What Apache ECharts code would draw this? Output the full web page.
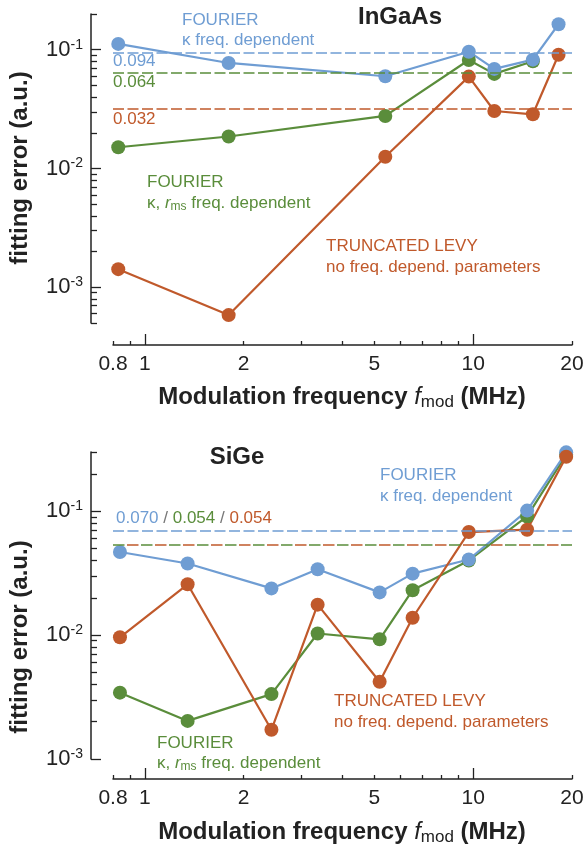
<!DOCTYPE html>
<html>
<head>
<meta charset="utf-8">
<script src="https://cdn.jsdelivr.net/npm/echarts@6/dist/echarts.min.js"></script>
<style>
  html, body { margin: 0; padding: 0; background: #fff; }
  #main { width: 586px; height: 847px; }
</style>
</head>
<body>
<div id="main"></div>
<script>
// InGaAs (top panel)
const freqTop = [0.83, 1.8, 5.4, 9.7, 11.6, 15.2, 18.2];
const blueTop = [0.112, 0.0774, 0.0598, 0.0963, 0.069, 0.0825, 0.164];
const greenTop = [0.0151, 0.0186, 0.0277, 0.082, 0.0626, 0.08];
const redTop = [0.00142, 0.000583, 0.01256, 0.0594, 0.0305, 0.0286, 0.0908];
const meanTop = { blue: 0.094, green: 0.064, red: 0.032 };

// SiGe (bottom panel)
const freqBot = [0.84, 1.35, 2.43, 3.36, 5.19, 6.54, 9.7, 14.6, 19.2];
const blueBot = [0.0468, 0.0378, 0.0238, 0.034, 0.0221, 0.0313, 0.0407, 0.101, 0.298];
const greenBot = [0.00343, 0.00203, 0.00334, 0.0103, 0.00924, 0.023, 0.040, 0.0906, 0.285];
const redBot = [0.0096, 0.0257, 0.00172, 0.0176, 0.0042, 0.0138, 0.0678, 0.0708, 0.275];
const meanBot = { blue: 0.070, green: 0.054, red: 0.054 };

// tick values
const xLabelTicks = [0.8, 1, 2, 5, 10, 20];
const xMinorTicks = [0.8, 0.9, 2, 3, 4, 5, 6, 7, 8, 9, 20];
const xMajorTicks = [1, 10];
const yTopDecades = [1e-3, 1e-2, 1e-1];
const yTopMinor = [5e-4, 6e-4, 7e-4, 8e-4, 9e-4,
  2e-3, 3e-3, 4e-3, 5e-3, 6e-3, 7e-3, 8e-3, 9e-3,
  2e-2, 3e-2, 4e-2, 5e-2, 6e-2, 7e-2, 8e-2, 9e-2, 0.2];
const yBotDecades = [1e-3, 1e-2, 1e-1];
const yBotMinor = [2e-3, 3e-3, 4e-3, 5e-3, 6e-3, 7e-3, 8e-3, 9e-3,
  2e-2, 3e-2, 4e-2, 5e-2, 6e-2, 7e-2, 8e-2, 9e-2, 0.2, 0.3];

const FONT = '"Liberation Sans", Arial, Helvetica, sans-serif';
const BLUE = '#6f9dd3';
const GREEN = '#5a8d3b';
const RED = '#c0592b';
const INK = '#222';

const axisLine = { onZero: false, lineStyle: { color: INK, width: 1.5 } };
const tickLine = { color: INK, width: 1.3 };

function xAxes(grid, offset) {
  return [
    {
      type: 'log', gridIndex: grid, min: 0.8, max: 20, position: 'bottom', offset,
      axisLine,
      axisTick: { inside: true, length: 4, customValues: xMinorTicks, lineStyle: tickLine },
      axisLabel: {
        customValues: xLabelTicks, margin: 9, color: INK, fontSize: 21, fontFamily: FONT,
        formatter: v => String(Math.round(v * 10) / 10)
      },
      splitLine: { show: false }
    },
    {
      type: 'log', gridIndex: grid, min: 0.8, max: 20, position: 'bottom', offset,
      axisLine: { show: false },
      axisTick: { inside: true, length: 11, customValues: xMajorTicks, lineStyle: tickLine },
      axisLabel: { show: false },
      splitLine: { show: false }
    }
  ];
}

function yAxes(grid, min, max, decades, minor) {
  return [
    {
      type: 'log', gridIndex: grid, min, max, position: 'left', offset: 22,
      axisLine,
      axisTick: { inside: true, length: 10, customValues: decades, lineStyle: tickLine },
      axisLabel: {
        customValues: decades, margin: 8, color: INK, fontFamily: FONT,
        formatter: v => '{b|10}{s|' + Math.round(Math.log10(v)) + '}',
        rich: {
          b: { fontSize: 22, lineHeight: 24, fontFamily: FONT, color: INK },
          s: { fontSize: 14, lineHeight: 14, verticalAlign: 'top', fontFamily: FONT, color: INK }
        }
      },
      splitLine: { show: false }
    },
    {
      type: 'log', gridIndex: grid, min, max, position: 'left', offset: 22,
      axisLine: { show: false },
      axisTick: { inside: true, length: 6, customValues: minor, lineStyle: tickLine },
      axisLabel: { show: false },
      splitLine: { show: false }
    }
  ];
}

function series(grid, color, xs, ys, mean, dash) {
  return {
    type: 'line',
    xAxisIndex: grid * 2,
    yAxisIndex: grid * 2,
    data: ys.map((v, i) => [xs[i], v]),
    symbol: 'circle',
    symbolSize: 14,
    color,
    itemStyle: { color },
    lineStyle: { color, width: 2.2 },
    markLine: {
      silent: true,
      precision: 4,
      symbol: ['none', 'none'],
      label: { show: false },
      lineStyle: Object.assign({ color, width: 1.5, type: [11, 3.5] }, dash || {}),
      data: [{ yAxis: mean }]
    }
  };
}

function txt(x, y, text, fill, extra) {
  return {
    type: 'text', x, y, silent: true,
    style: Object.assign({
      text, fill, fontSize: 17, fontFamily: FONT, verticalAlign: 'middle'
    }, extra || {})
  };
}

function kappaRms(x, y) {
  return txt(x, y, '\u03ba, {i|r}{s|ms} freq. dependent', GREEN, {
    lineHeight: 20,
    rich: {
      i: { fontStyle: 'italic', fontSize: 17, lineHeight: 20, fontFamily: FONT, fill: GREEN },
      s: { fontSize: 12, lineHeight: 14, verticalAlign: 'bottom', fontFamily: FONT, fill: GREEN }
    }
  });
}

function xName(y) {
  return txt(342, y, '{b|Modulation frequency }{i|f}{s|mod}{b| (MHz)}', INK, {
    align: 'center',
    rich: {
      b: { fontSize: 24, fontWeight: 'bold', lineHeight: 28, fontFamily: FONT, fill: INK },
      i: { fontSize: 24, fontStyle: 'italic', lineHeight: 28, fontFamily: FONT, fill: INK },
      s: { fontSize: 17, lineHeight: 18, verticalAlign: 'bottom', fontFamily: FONT, fill: INK }
    }
  });
}

function yName(y) {
  const t = txt(20, y, 'fitting error (a.u.)', INK, {
    align: 'center', fontSize: 24, fontWeight: 'bold'
  });
  t.rotation = Math.PI / 2;
  return t;
}

const bold = { fontSize: 24, fontWeight: 'bold', align: 'center' };

const option = {
  animation: false,
  backgroundColor: '#fff',
  grid: [
    { left: 113, right: 14, top: 14, height: 309, outerBoundsMode: 'none' },
    { left: 113, right: 14, top: 452, height: 307, outerBoundsMode: 'none' }
  ],
  xAxis: [...xAxes(0, 22), ...xAxes(1, 20)],
  yAxis: [
    ...yAxes(0, 5e-4, 0.2, yTopDecades, yTopMinor),
    ...yAxes(1, 1e-3, 0.3, yBotDecades, yBotMinor)
  ],
  series: [
    series(0, GREEN, freqTop, greenTop, meanTop.green),
    series(0, BLUE, freqTop, blueTop, meanTop.blue),
    series(0, RED, freqTop, redTop, meanTop.red),
    series(1, GREEN, freqBot, greenBot, meanBot.green, { type: [11.5, 16.5] }),
    series(1, BLUE, freqBot, blueBot, meanBot.blue),
    series(1, RED, freqBot, redBot, meanBot.red, { type: [11.5, 16.5], dashOffset: 14 })
  ],
  graphic: [
    // top panel
    txt(400, 17, 'InGaAs', INK, bold),
    txt(182, 20, 'FOURIER', BLUE),
    txt(182, 40, '\u03ba freq. dependent', BLUE),
    txt(113, 61, meanTop.blue.toFixed(3), BLUE),
    txt(113, 82, meanTop.green.toFixed(3), GREEN),
    txt(113, 119, meanTop.red.toFixed(3), RED),
    txt(147, 182, 'FOURIER', GREEN),
    kappaRms(147, 203),
    txt(326, 246, 'TRUNCATED LEVY', RED),
    txt(326, 267, 'no freq. depend. parameters', RED),
    yName(168),
    xName(397),
    // bottom panel
    txt(237, 457, 'SiGe', INK, bold),
    txt(116, 518, '{b|' + meanBot.blue.toFixed(3) + '}{g| / }{n|' + meanBot.green.toFixed(3) +
      '}{g| / }{r|' + meanBot.red.toFixed(3) + '}', BLUE, {
      rich: {
        b: { fontSize: 17, fontFamily: FONT, fill: BLUE },
        g: { fontSize: 17, fontFamily: FONT, fill: '#777' },
        n: { fontSize: 17, fontFamily: FONT, fill: GREEN },
        r: { fontSize: 17, fontFamily: FONT, fill: RED }
      }
    }),
    txt(380, 475, 'FOURIER', BLUE),
    txt(380, 496, '\u03ba freq. dependent', BLUE),
    txt(334, 701, 'TRUNCATED LEVY', RED),
    txt(334, 722, 'no freq. depend. parameters', RED),
    txt(157, 743, 'FOURIER', GREEN),
    kappaRms(157, 763),
    yName(637),
    xName(832)
  ]
};

const chart = echarts.init(document.getElementById('main'), null, { renderer: 'canvas' });
chart.setOption(option);
</script>
</body>
</html>
